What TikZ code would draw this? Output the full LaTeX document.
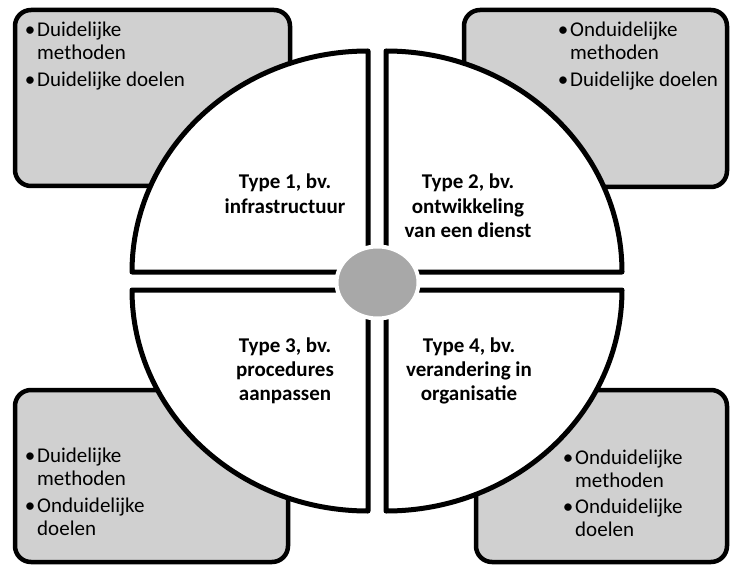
\documentclass[tikz,border=0pt]{standalone}
\usepackage{fontspec}
\setmainfont{Carlito}
\definecolor{boxgray}{RGB}{208,208,208}
\definecolor{hubgray}{RGB}{168,168,168}
\tikzset{
  outerbox/.style={draw=black, line width=4.5pt, fill=boxgray, rounded corners=16pt},
  quarter/.style={draw=black, line width=5pt, fill=white, line join=round},
  hub/.style={draw=white, line width=4pt, fill=hubgray},
  item/.style={anchor=base west, inner sep=0pt, font=\fontsize{21}{23}\selectfont},
  title/.style={anchor=base, inner sep=0pt, font=\fontsize{21}{24}\selectfont\bfseries}
}
\newcommand{\bulletitem}[2]{\begin{tabular}[t]{@{}l@{}l@{}}\makebox[14pt]{\textbullet}&#1\\&#2\end{tabular}}
\newcommand{\bulletone}[1]{\begin{tabular}[t]{@{}l@{}l@{}}\makebox[14pt]{\textbullet}&#1\end{tabular}}
\begin{document}
\begin{tikzpicture}[x=1pt,y=1pt]
\useasboundingbox (0,0) rectangle (731,566);
\fill[white] (0,0) rectangle (731,566);

% four corner boxes
\draw[outerbox] (15,380) rectangle (290,556);
\draw[outerbox] (464,379) rectangle (727,556);
\draw[outerbox] (15,4) rectangle (288,176);
\draw[outerbox] (476,4) rectangle (727,176);

% circle split into four quarters
\draw[quarter] (368,294) -- (368,515) arc[start angle=90, end angle=180, x radius=236, y radius=221] -- cycle;
\draw[quarter] (386,294) -- (622,294) arc[start angle=0, end angle=90, x radius=236, y radius=221] -- cycle;
\draw[quarter] (368,276) -- (132,276) arc[start angle=180, end angle=270, x radius=236, y radius=221] -- cycle;
\draw[quarter] (386,276) -- (386,55) arc[start angle=270, end angle=360, x radius=236, y radius=221] -- cycle;

% central hub
\draw[hub] (377.5,283.5) ellipse [x radius=41, y radius=36];

% quadrant titles
\node[title] (t1) at (285,377) {\begin{tabular}[t]{@{}c@{}}Type 1, bv.\\infrastructuur\end{tabular}};
\node[title] (t2) at (468,377) {\begin{tabular}[t]{@{}c@{}}Type 2, bv.\\ontwikkeling\\van een dienst\end{tabular}};
\node[title] (t3) at (285,214) {\begin{tabular}[t]{@{}c@{}}Type 3, bv.\\procedures\\aanpassen\end{tabular}};
\node[title] (t4) at (469,214) {\begin{tabular}[t]{@{}c@{}}Type 4, bv.\\verandering in\\organisatie\end{tabular}};

% bullet lists in the corner boxes
\node[item] (tla) at (23,529) {\bulletitem{Duidelijke}{methoden}};
\node[item] (tlb) at (23,479) {\bulletone{Duidelijke doelen}};
\node[item] (tra) at (556,529) {\bulletitem{Onduidelijke}{methoden}};
\node[item] (trb) at (556,479) {\bulletone{Duidelijke doelen}};
\node[item] (bla) at (23,104) {\bulletitem{Duidelijke}{methoden}};
\node[item] (blb) at (23,54) {\bulletitem{Onduidelijke}{doelen}};
\node[item] (bra) at (561,102) {\bulletitem{Onduidelijke}{methoden}};
\node[item] (brb) at (561,53) {\bulletitem{Onduidelijke}{doelen}};
\end{tikzpicture}
\end{document}
